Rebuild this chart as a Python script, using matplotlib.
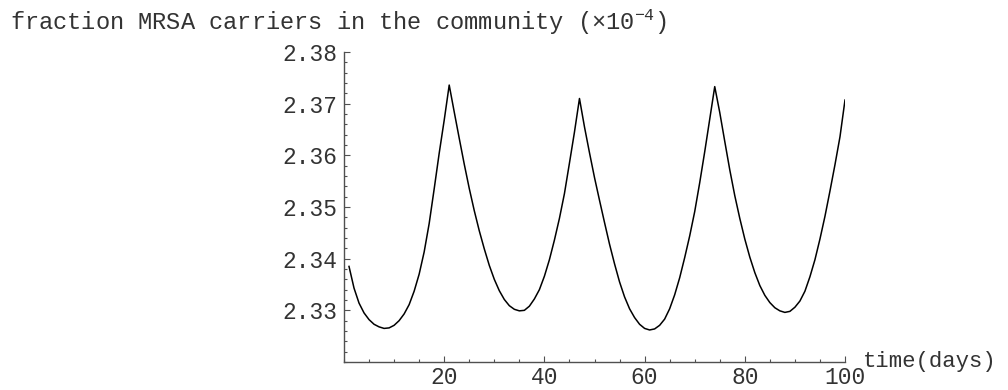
import matplotlib
matplotlib.use('Agg')
import matplotlib.pyplot as plt
from matplotlib.ticker import MultipleLocator, FixedLocator, FormatStrFormatter

# values, one per day (day 1 .. 100)
days = list(range(1, 101))
carriers = [
    2.3385, 2.3343, 2.3314, 2.3295, 2.3282, 2.3273, 2.3268, 2.3265, 2.3266, 2.3271,   # 1-10
    2.3280, 2.3293, 2.3311, 2.3337, 2.3370, 2.3413, 2.3468, 2.3535, 2.3604, 2.3668,   # 11-20
    2.3736, 2.3684, 2.3633, 2.3583, 2.3536, 2.3493, 2.3454, 2.3419, 2.3387, 2.3360,   # 21-30
    2.3338, 2.3321, 2.3309, 2.3302, 2.3299, 2.3300, 2.3308, 2.3322, 2.3340, 2.3366,   # 31-40
    2.3398, 2.3436, 2.3478, 2.3526, 2.3585, 2.3645, 2.3710, 2.3655, 2.3605, 2.3557,   # 41-50
    2.3513, 2.3470, 2.3428, 2.3390, 2.3355, 2.3326, 2.3303, 2.3286, 2.3273, 2.3265,   # 51-60
    2.3262, 2.3264, 2.3271, 2.3283, 2.3303, 2.3330, 2.3363, 2.3402, 2.3444, 2.3491,   # 61-70
    2.3547, 2.3607, 2.3670, 2.3733, 2.3683, 2.3627, 2.3572, 2.3522, 2.3478, 2.3438,   # 71-80
    2.3403, 2.3373, 2.3348, 2.3329, 2.3315, 2.3305, 2.3299, 2.3296, 2.3298, 2.3306,   # 81-90
    2.3318, 2.3337, 2.3365, 2.3398, 2.3438, 2.3482, 2.3531, 2.3582, 2.3636, 2.3707,   # 91-100
]

xticks = [20, 40, 60, 80, 100]
yticks = [2.33, 2.34, 2.35, 2.36, 2.37, 2.38]

plt.rcParams['font.family'] = ['Liberation Mono', 'DejaVu Sans Mono']
plt.rcParams['mathtext.fontset'] = 'custom'
plt.rcParams['mathtext.rm'] = 'Liberation Mono'
plt.rcParams['mathtext.default'] = 'regular'

fs = 16.5
txt = '#333333'
axc = '#505050'

fig = plt.figure(figsize=(10.08, 3.9), dpi=100)
ax = fig.add_axes([344 / 1008, 28 / 390, 501 / 1008, 310 / 390])

ax.plot(days, carriers, color='black', linewidth=1.1)

ax.set_xlim(0, 100)
ax.set_ylim(2.32, 2.38)

for s in ['top', 'right']:
    ax.spines[s].set_visible(False)
for s in ['left', 'bottom']:
    ax.spines[s].set_color(axc)
    ax.spines[s].set_linewidth(1.0)

ax.xaxis.set_major_locator(FixedLocator(xticks))
ax.xaxis.set_minor_locator(MultipleLocator(5))
ax.yaxis.set_major_locator(FixedLocator(yticks))
ax.yaxis.set_minor_locator(MultipleLocator(0.002))
ax.yaxis.set_major_formatter(FormatStrFormatter('%.2f'))

ax.tick_params(which='major', direction='in', length=4.5, width=0.8, color=axc,
               labelsize=fs, labelcolor=txt)
ax.tick_params(which='minor', direction='in', length=2.5, width=0.8, color=axc)
ax.tick_params(axis='y', which='major', pad=5)
ax.tick_params(axis='x', which='major', pad=3)

ax.annotate('time(days)', xy=(1, 0), xycoords='axes fraction', xytext=(13, 0),
            textcoords='offset points', ha='left', va='center', fontsize=16,
            color=txt, annotation_clip=False)

fig.text(10 / 1008, 1 - 30 / 390,
         'fraction MRSA carriers in the community (\u00d710$^{-4}$)',
         ha='left', va='baseline', fontsize=17, color=txt)

fig.savefig('out.png', dpi=100)
